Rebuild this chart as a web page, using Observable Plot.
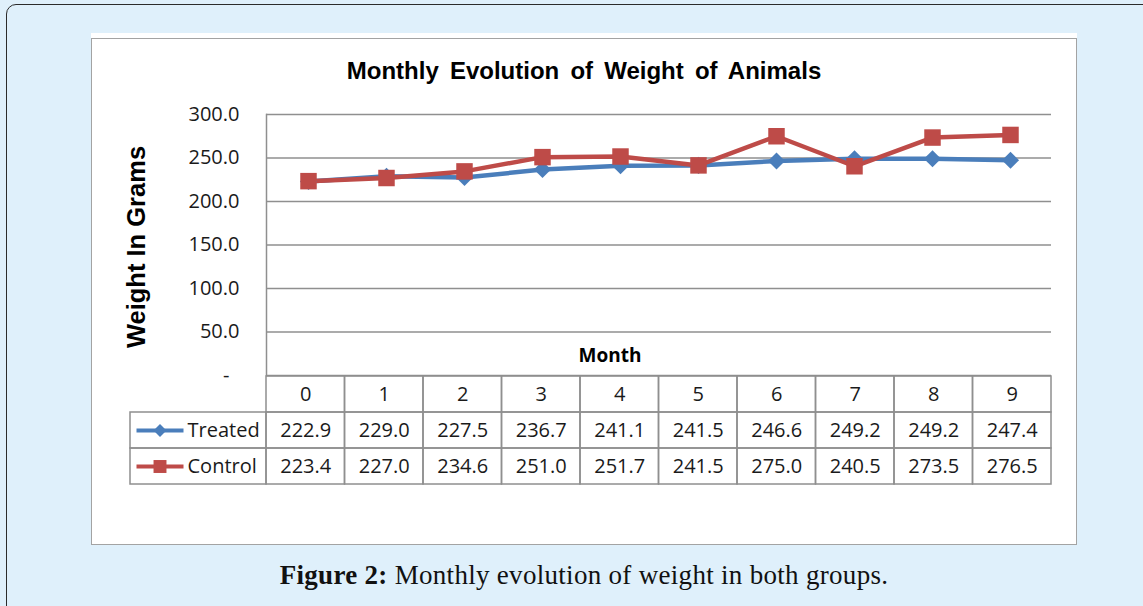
<!DOCTYPE html>
<html>
<head>
<meta charset="utf-8">
<script src="https://cdn.jsdelivr.net/npm/d3@7"></script>
<script src="https://cdn.jsdelivr.net/npm/@observablehq/plot@0.6"></script>
<style>
  html, body { margin: 0; padding: 0; }
  body { width: 1143px; height: 606px; background: #dff0fb; position: relative; overflow: hidden; font-family: "Liberation Sans", Arial, sans-serif; }
  #outer { position: absolute; left: 6px; top: 4px; width: 1300px; height: 800px; border: 1.5px solid #2b2b2b; border-radius: 10px; }
  #whitestrip { position: absolute; left: 91px; top: 33px; width: 986px; height: 8px; background: #fff; }
  #box { position: absolute; left: 91px; top: 38px; width: 984px; height: 505px; background: #fff; border: 1.5px solid #a3a3a3; }
  #title { position: absolute; left: 91px; top: 59px; width: 986px; text-align: center; font: bold 24px/24px "Liberation Sans", Arial, sans-serif; color: #000; word-spacing: 4.5px; }
  #chart { position: absolute; left: 91px; top: 100px; }
  #table { position: absolute; left: 91px; top: 374px; }
  #caption { position: absolute; left: 0; top: 562px; width: 1168px; text-align: center; font: 27px/27px "Liberation Serif", "Times New Roman", serif; color: #111; letter-spacing: 0.3px; }
</style>
</head>
<body>
<div id="outer"></div>
<div id="whitestrip"></div>
<div id="box"></div>
<div id="title">Monthly Evolution of Weight of Animals</div>
<div id="chart"></div>
<div id="table"></div>
<div id="caption"><b>Figure 2:</b> Monthly evolution of weight in both groups.</div>
<script>
// ---- data ----
const months = [0, 1, 2, 3, 4, 5, 6, 7, 8, 9];
const treated = [222.9, 229.0, 227.5, 236.7, 241.1, 241.5, 246.6, 249.2, 249.2, 247.4];
const control = [223.4, 227.0, 234.6, 251.0, 251.7, 241.5, 275.0, 240.5, 273.5, 276.5];
const seriesNames = ["Treated", "Control"];
const yTicks = [0, 50, 100, 150, 200, 250, 300];
const xLabel = "Month";
const yLabel = "Weight In Grams";

// ---- styling constants ----
const colors = {Treated: "#4a7ebb", Control: "#be4b48"};
const symbols = {Treated: "diamond2", Control: "square"};
const gridColor = "#8f8f8f";
const textColor = "#1a1a1a";
const numFont = "'Open Sans', 'Noto Sans', sans-serif";
const boldFont = "'Liberation Sans', Arial, sans-serif";

const rows = [];
seriesNames.forEach((s, k) => {
  const vals = k === 0 ? treated : control;
  months.forEach((m, i) => rows.push({series: s, month: m, value: vals[i]}));
});

const W = 986;
const mLeft = 175, mRight = 26;

// ---- chart ----
const chart = Plot.plot({
  width: W,
  height: 290,
  marginTop: 14,
  marginBottom: 15,
  marginLeft: mLeft,
  marginRight: mRight,
  style: {background: "transparent", overflow: "visible", fontFamily: numFont, fontSize: "20px", color: textColor},
  x: {type: "point", domain: months, padding: 0.5, axis: null},
  y: {domain: [0, 300], axis: null},
  marks: [
    Plot.ruleY(yTicks, {stroke: gridColor, strokeWidth: 1.5}),
    Plot.frame({anchor: "left", stroke: gridColor, strokeWidth: 1.5}),
    Plot.axisY({
      ticks: yTicks, tickSize: 0, tickPadding: 27, label: null,
      tickFormat: d => d === 0 ? "-\u2002" : d.toFixed(1),
      fontSize: 20, fill: textColor
    }),
    Plot.text([yLabel], {
      frameAnchor: "left", textAnchor: "middle", rotate: -90, dx: -130, dy: 2,
      fontFamily: boldFont, fontWeight: "bold", fontSize: 25.5, fill: "#000"
    }),
    Plot.text([xLabel], {
      frameAnchor: "bottom", dx: -49, dy: -14,
      fontFamily: numFont, fontWeight: "bold", fontSize: 19, fill: "#000"
    }),
    Plot.line(rows, {x: "month", y: "value", z: "series", stroke: d => colors[d.series], strokeWidth: 4.5, strokeLinejoin: "round"}),
    Plot.dot(rows.filter(d => d.series === "Treated"), {x: "month", y: "value", symbol: "diamond2", r: 7.7, fill: colors.Treated}),
    Plot.dot(rows.filter(d => d.series === "Control"), {x: "month", y: "value", symbol: "square", r: 9.3, fill: colors.Control})
  ]
});
document.getElementById("chart").appendChild(chart);

// ---- data table ----
const colPx = (W - mLeft - mRight) / months.length;   // column width in px
const keyPx = 136;                                    // legend column width in px
const keyCols = keyPx / colPx;
const u = px => px / colPx;
const rowNames = ["Month", ...seriesNames];

const cells = [];
months.forEach((m, i) => {
  cells.push({row: "Month", x1: i, x2: i + 1, label: String(m)});
  cells.push({row: "Treated", x1: i, x2: i + 1, label: treated[i].toFixed(1)});
  cells.push({row: "Control", x1: i, x2: i + 1, label: control[i].toFixed(1)});
});
const keyCells = seriesNames.map(s => ({row: s, x1: -keyCols, x2: 0, label: s}));

const table = Plot.plot({
  width: W,
  height: 114,
  marginTop: 1.5,
  marginBottom: 3,
  marginLeft: 39,
  marginRight: mRight,
  style: {background: "transparent", overflow: "visible", fontFamily: numFont, fontSize: "20px", color: textColor},
  x: {domain: [-keyCols, months.length], axis: null},
  y: {domain: rowNames, padding: 0, axis: null},
  marks: [
    Plot.barX([...cells, ...keyCells], {x1: "x1", x2: "x2", y: "row", fill: "none", stroke: gridColor, strokeWidth: 1.5}),
    Plot.text(cells, {x: d => (d.x1 + d.x2) / 2, y: "row", text: "label", fill: textColor, fontSize: 20}),
    Plot.link(keyCells, {x1: d => d.x1 + u(6), x2: d => d.x1 + u(53), y1: "row", y2: "row", stroke: d => colors[d.label], strokeWidth: 4}),
    Plot.dot(keyCells.filter(d => d.label === "Treated"), {x: d => d.x1 + u(29.5), y: "row", symbol: "diamond2", r: 5.8, fill: colors.Treated}),
    Plot.dot(keyCells.filter(d => d.label === "Control"), {x: d => d.x1 + u(29.5), y: "row", symbol: "square", r: 7.3, fill: colors.Control}),
    Plot.text(keyCells, {x: d => d.x1 + u(57), y: "row", text: "label", textAnchor: "start", fill: textColor, fontSize: 20})
  ]
});
document.getElementById("table").appendChild(table);
</script>
</body>
</html>
